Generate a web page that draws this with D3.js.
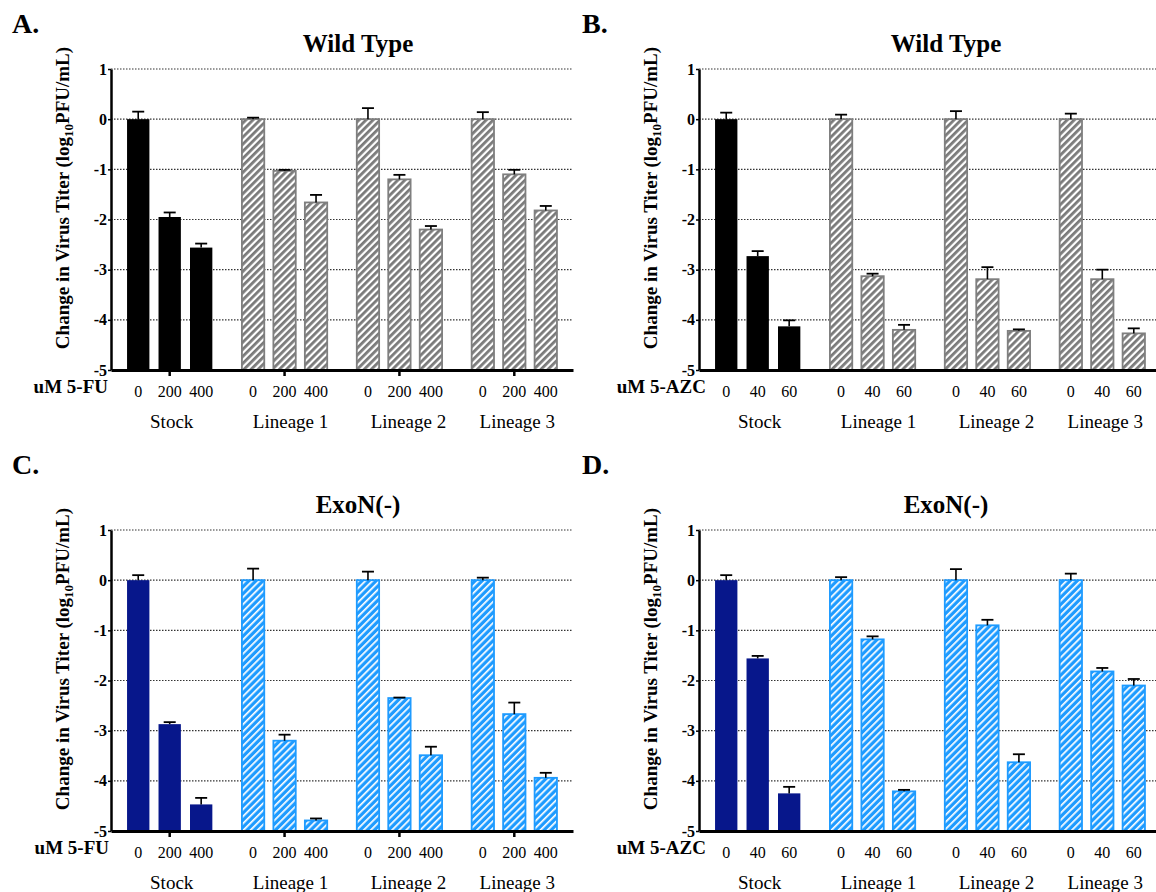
<!DOCTYPE html>
<html>
<head>
<meta charset="utf-8">
<script src="https://cdn.jsdelivr.net/npm/d3@7"></script>
<style>
body { margin: 0; background: #fff; }
svg { display: block; font-family: "Liberation Serif", "Times New Roman", serif; }
</style>
</head>
<body>
<svg id="fig" width="1156" height="892"></svg>
<script>
const groups = ["Stock", "Lineage 1", "Lineage 2", "Lineage 3"]
const yTicks = [1, 0, -1, -2, -3, -4, -5]
const gridTicks = [1, 0, -1, -2, -3, -4]

const fuDoses = ["0", "200", "400"]
const azcDoses = ["0", "40", "60"]

// A. wild type, 5-FU
const wtFuMean = [[0, -1.95, -2.56], [0, -1.03, -1.66], [0, -1.2, -2.2], [0, -1.1, -1.82]]
const wtFuErr = [[0.15, 0.09, 0.08], [0.03, 0.02, 0.15], [0.22, 0.09, 0.07], [0.14, 0.09, 0.09]]

// B. wild type, 5-AZC
const wtAzcMean = [[0, -2.73, -4.13], [0, -3.13, -4.2], [0, -3.19, -4.22], [0, -3.19, -4.27]]
const wtAzcErr = [[0.13, 0.1, 0.12], [0.09, 0.05, 0.1], [0.16, 0.24, 0.03], [0.11, 0.19, 0.1]]

// C. ExoN(-), 5-FU
const exoFuMean = [[0, -2.87, -4.47], [0, -3.2, -4.79], [0, -2.35, -3.49], [0, -2.67, -3.94]]
const exoFuErr = [[0.1, 0.04, 0.13], [0.23, 0.12, 0.04], [0.17, 0.01, 0.17], [0.05, 0.23, 0.1]]

// D. ExoN(-), 5-AZC
const exoAzcMean = [[0, -1.56, -4.25], [0, -1.18, -4.21], [0, -0.9, -3.63], [0, -1.82, -2.1]]
const exoAzcErr = [[0.1, 0.05, 0.13], [0.06, 0.06, 0.03], [0.22, 0.11, 0.16], [0.13, 0.07, 0.13]]

const W = 462, H = 301
const groupShift = [2, 6, 9, 3]

const svg = d3.select('#fig')
const defs = svg.append('defs')

function hatch(id, bg, fg, w) {
    const p = defs.append('pattern')
        .attr('id', id)
        .attr('patternUnits', 'userSpaceOnUse')
        .attr('width', 5)
        .attr('height', 5)
        .attr('patternTransform', 'rotate(45)')
    p.append('rect').attr('width', 5).attr('height', 5).attr('fill', bg)
    p.append('rect').attr('width', w).attr('height', 5).attr('fill', fg)
}
hatch('grayHatch', '#ffffff', '#7a7a7a', 2.8)
hatch('blueHatch', '#1e9bff', '#ffffff', 1.7)

const panels = [
    {letter: 'A.', lx: 12, ly: 33, x: 111, top: 69, title: 'Wild Type', drug: 'uM 5-FU', drugEnd: -3,
     doses: fuDoses, mean: wtFuMean, err: wtFuErr, solid: '#000000', hatch: 'grayHatch', edge: '#7f7f7f', ticks: true},
    {letter: 'B.', lx: 582, ly: 33, x: 699, top: 69, title: 'Wild Type', drug: 'uM 5-AZC', drugEnd: 7,
     doses: azcDoses, mean: wtAzcMean, err: wtAzcErr, solid: '#000000', hatch: 'grayHatch', edge: '#7f7f7f', ticks: false},
    {letter: 'C.', lx: 12, ly: 474, x: 111, top: 530, title: 'ExoN(-)', drug: 'uM 5-FU', drugEnd: -2,
     doses: fuDoses, mean: exoFuMean, err: exoFuErr, solid: '#07178b', hatch: 'blueHatch', edge: '#1e9bff', ticks: true},
    {letter: 'D.', lx: 582, ly: 474, x: 699, top: 530, title: 'ExoN(-)', drug: 'uM 5-AZC', drugEnd: 7,
     doses: azcDoses, mean: exoAzcMean, err: exoAzcErr, solid: '#07178b', hatch: 'blueHatch', edge: '#1e9bff', ticks: false}
]

panels.forEach(function(p) {
    svg.append('text')
        .text(p.letter)
        .attr('x', p.lx)
        .attr('y', p.ly)
        .attr('font-size', '28px')
        .attr('font-weight', 'bold')

    const g = svg.append('g').attr('transform', `translate(${p.x},${p.top})`)

    const y = d3.scaleLinear([-5, 1], [H, 0])
    const outer = d3.scaleBand(groups, [0, W]).paddingInner(0.178).paddingOuter(0.1)
    const inner = d3.scaleBand(p.doses, [0, outer.bandwidth()]).paddingInner(0.29).paddingOuter(0.145)

    // gridlines
    g.selectAll('.grid')
        .data(gridTicks)
        .join('line')
        .attr('x1', 0)
        .attr('x2', W)
        .attr('y1', d => y(d))
        .attr('y2', d => y(d))
        .attr('stroke', '#333')
        .attr('stroke-width', 1.2)
        .attr('stroke-dasharray', '1.5,1.5')

    const rows = groups.flatMap((gname, gi) => p.doses.map((dose, di) => ({
        g: gname, dose: dose, v: p.mean[gi][di], e: p.err[gi][di], solid: gi === 0
    })))

    const cx = d => outer(d.g) + inner(d.dose) + inner.bandwidth() / 2

    // bars
    g.selectAll('.bar')
        .data(rows)
        .join('rect')
        .attr('x', d => outer(d.g) + inner(d.dose))
        .attr('y', d => y(d.v))
        .attr('width', inner.bandwidth())
        .attr('height', d => y(-5) - y(d.v))
        .attr('fill', d => d.solid ? p.solid : `url(#${p.hatch})`)
        .attr('stroke', d => d.solid ? 'none' : p.edge)
        .attr('stroke-width', 1.8)

    // error bars
    g.selectAll('.err')
        .data(rows)
        .join('line')
        .attr('x1', cx)
        .attr('x2', cx)
        .attr('y1', d => y(d.v))
        .attr('y2', d => y(d.v + d.e))
        .attr('stroke', '#000')
        .attr('stroke-width', 1.6)
    g.selectAll('.cap')
        .data(rows)
        .join('line')
        .attr('x1', d => cx(d) - 6)
        .attr('x2', d => cx(d) + 6)
        .attr('y1', d => y(d.v + d.e))
        .attr('y2', d => y(d.v + d.e))
        .attr('stroke', '#000')
        .attr('stroke-width', 1.8)

    // y axis
    const yAxis = g.append('g')
        .call(d3.axisLeft(y).tickValues(yTicks).tickFormat(d => String(d)).tickSize(3).tickPadding(1).tickSizeOuter(0))
    yAxis.select('.domain').attr('stroke-width', 2.5)
    yAxis.selectAll('line').attr('stroke-width', 1.5)
    yAxis.selectAll('text')
        .attr('font-size', '16px')
        .attr('font-weight', 'bold')
        .attr('font-family', '"Liberation Serif", "Times New Roman", serif')
        .attr('fill', '#000')

    // x axis
    const xAxis = g.append('g')
        .attr('transform', `translate(0,${H})`)
        .call(d3.axisBottom(outer).tickSize(p.ticks ? 6 : 0).tickFormat('').tickSizeOuter(0))
    xAxis.select('.domain').attr('stroke-width', 2.8)
    xAxis.selectAll('line').attr('stroke-width', 2.5)

    // dose labels
    g.selectAll('.dose')
        .data(rows)
        .join('text')
        .text(d => d.dose)
        .attr('x', cx)
        .attr('y', H + 27)
        .attr('text-anchor', 'middle')
        .attr('font-size', '16px')

    // group labels
    g.selectAll('.grp')
        .data(groups)
        .join('text')
        .text(d => d)
        .attr('x', (d, i) => outer(d) + outer.bandwidth() / 2 + groupShift[i])
        .attr('y', H + 58)
        .attr('text-anchor', 'middle')
        .attr('font-size', '19px')

    // drug label
    g.append('text')
        .text(p.drug)
        .attr('x', p.drugEnd)
        .attr('y', H + 23)
        .attr('text-anchor', 'end')
        .attr('font-size', '19px')
        .attr('font-weight', 'bold')

    // title
    g.append('text')
        .text(p.title)
        .attr('x', 247)
        .attr('y', -17.5)
        .attr('text-anchor', 'middle')
        .attr('font-size', '25px')
        .attr('font-weight', 'bold')

    // y label
    const yl = g.append('text')
        .attr('transform', 'translate(-42,129) rotate(-90)')
        .attr('text-anchor', 'middle')
        .attr('font-size', '19px')
        .attr('font-weight', 'bold')
    yl.append('tspan').text('Change in Virus Titer (log')
    yl.append('tspan').text('10').attr('font-size', '13px').attr('dy', 4)
    yl.append('tspan').text('PFU/mL)').attr('dy', -4)
})
</script>
</body>
</html>
